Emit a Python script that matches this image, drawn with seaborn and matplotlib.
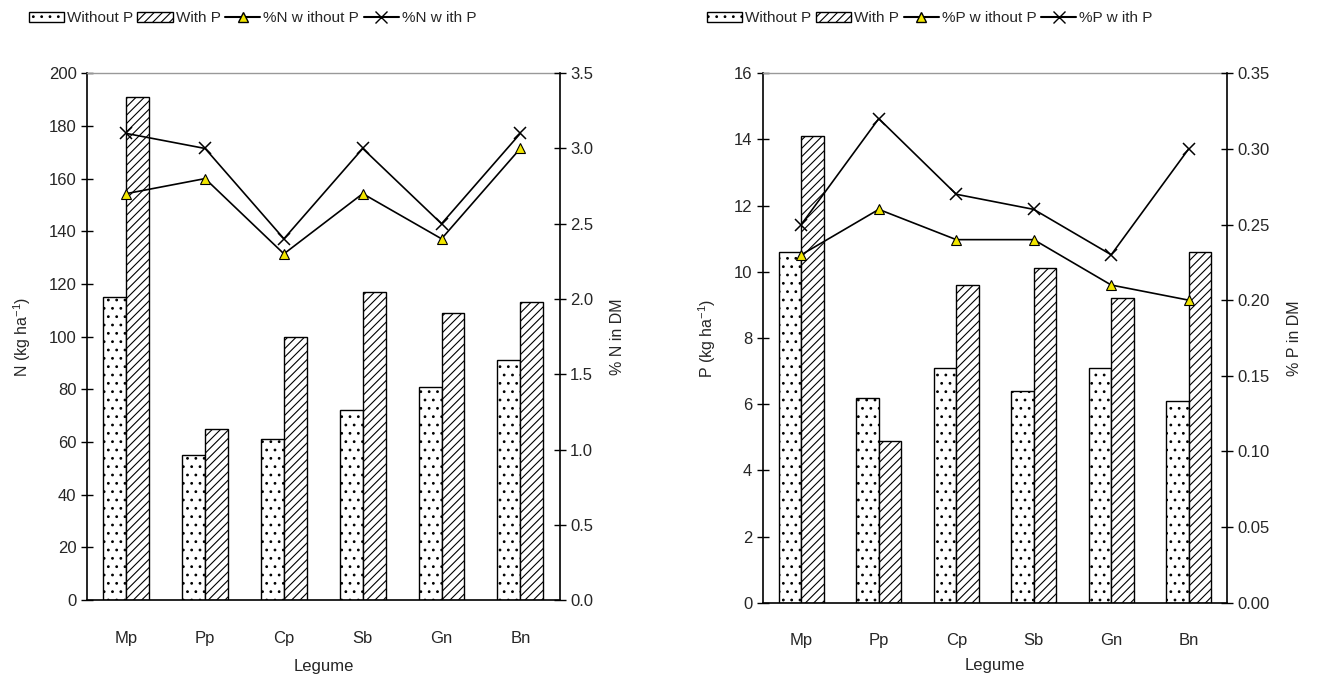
import numpy as np
import pandas as pd
import matplotlib
matplotlib.use("Agg")
import matplotlib.pyplot as plt
import seaborn as sns
from matplotlib.patches import Patch
from matplotlib.lines import Line2D

legumes = ['Mp', 'Pp', 'Cp', 'Sb', 'Gn', 'Bn']

# N uptake (kg/ha) and %N in DM
n_without = [115, 55, 61, 72, 81, 91]
n_with = [191, 65, 100, 117, 109, 113]
pct_n_without = [2.7, 2.8, 2.3, 2.7, 2.4, 3.0]
pct_n_with = [3.1, 3.0, 2.4, 3.0, 2.5, 3.1]

# P uptake (kg/ha) and %P in DM
p_without = [10.6, 6.2, 7.1, 6.4, 7.1, 6.1]
p_with = [14.1, 4.9, 9.6, 10.1, 9.2, 10.6]
pct_p_without = [0.23, 0.26, 0.24, 0.24, 0.21, 0.20]
pct_p_with = [0.25, 0.32, 0.27, 0.26, 0.23, 0.30]

sns.set_theme(style="white")
plt.rcParams['font.family'] = ['Liberation Sans', 'DejaVu Sans']
plt.rcParams['hatch.linewidth'] = 0.8
plt.rcParams['mathtext.fontset'] = 'custom'
plt.rcParams['mathtext.rm'] = 'Liberation Sans'

fig = plt.figure(figsize=(13.17, 6.78), dpi=100)
ax1 = fig.add_axes([0.066, 0.115, 0.359, 0.777])
ax2 = fig.add_axes([0.579, 0.111, 0.353, 0.781])


def draw_panel(ax, without, with_, pct_without, pct_with, ymax, ystep, y2max, y2step,
               ylabel, y2label, nut, y2fmt, leg_x, xlab_pad):
    df = pd.DataFrame({
        'Legume': legumes * 2,
        'value': list(without) + list(with_),
        'Treatment': ['Without P'] * 6 + ['With P'] * 6,
    })
    sns.barplot(data=df, x='Legume', y='value', hue='Treatment', ax=ax,
                width=0.58, dodge=True, legend=False,
                palette={'Without P': 'white', 'With P': 'white'},
                edgecolor='black', linewidth=1.0)
    hatches = ['..', '////']
    for cont, h in zip(ax.containers, hatches):
        for bar in cont:
            bar.set_hatch(h)
            bar.set_edgecolor('black')

    ax.set_xlim(-0.5, 5.5)
    ax.set_ylim(0, ymax)
    ax.set_yticks(np.arange(0, ymax + ystep / 2, ystep))
    ax.set_xticks(np.arange(6))
    ax.set_xticklabels(legumes)
    ax.tick_params(axis='x', length=0, pad=22, labelsize=12)
    ax.set_xticks(np.arange(-0.5, 6.0, 1.0), minor=True)
    ax.tick_params(axis='x', which='minor', length=7, width=1, direction='out', color='black')
    ax.tick_params(axis='y', length=8, width=1, direction='inout', labelsize=12, color='black', left=True)
    ax.set_xlabel('Legume', fontsize=12, labelpad=xlab_pad)
    ax.set_ylabel(ylabel, fontsize=11.5, labelpad=11)

    for side in ['left', 'bottom']:
        ax.spines[side].set_color('black')
        ax.spines[side].set_linewidth(1.2)
    ax.spines['top'].set_color('#999999')
    ax.spines['top'].set_linewidth(1.0)
    ax.spines['right'].set_visible(False)

    tw = ax.twinx()
    x = np.arange(6)
    sns.lineplot(x=x, y=pct_without, ax=tw, color='black', linewidth=1.2,
                 marker='^', markersize=7.5, markerfacecolor='#f2e600',
                 markeredgecolor='black', markeredgewidth=0.8)
    sns.lineplot(x=x, y=pct_with, ax=tw, color='black', linewidth=1.2,
                 marker='x', markersize=9, markeredgecolor='black', markeredgewidth=1.1)
    tw.set_ylim(0, y2max)
    tw.set_yticks(np.arange(0, y2max + y2step / 2, y2step))
    tw.set_yticklabels([y2fmt.format(v) for v in np.arange(0, y2max + y2step / 2, y2step)])
    tw.tick_params(axis='y', length=8, width=1, direction='inout', labelsize=12, color='black', right=True)
    tw.set_ylabel(y2label, fontsize=11.5, labelpad=12)
    for side in ['left', 'bottom', 'top']:
        tw.spines[side].set_visible(False)
    tw.spines['right'].set_color('black')
    tw.spines['right'].set_linewidth(1.2)
    tw.grid(False)
    tw.set_xlim(-0.5, 5.5)

    handles = [
        Patch(facecolor='white', edgecolor='black', hatch='..', label='Without P'),
        Patch(facecolor='white', edgecolor='black', hatch='////', label='With P'),
        Line2D([], [], color='black', marker='^', markerfacecolor='#f2e600',
               markeredgecolor='black', markersize=7, label=f'%{nut} w ithout P'),
        Line2D([], [], color='black', marker='x', markersize=8, label=f'%{nut} w ith P'),
    ]
    ax.legend(handles=handles, loc='lower center', bbox_to_anchor=(leg_x, 1.065),
              ncol=4, frameon=False, fontsize=11, handlelength=2.3,
              handletextpad=0.2, columnspacing=0.3, handleheight=0.6)


draw_panel(ax1, n_without, n_with, pct_n_without, pct_n_with, 200, 20, 3.5, 0.5,
           'N (kg ha$^{-1}$)', '% N in DM', 'N', '{:.1f}', 0.35, 10)
draw_panel(ax2, p_without, p_with, pct_p_without, pct_p_with, 16, 2, 0.35, 0.05,
           'P (kg ha$^{-1}$)', '% P in DM', 'P', '{:.2f}', 0.36, 7)

fig.savefig('out.png', dpi=100)
